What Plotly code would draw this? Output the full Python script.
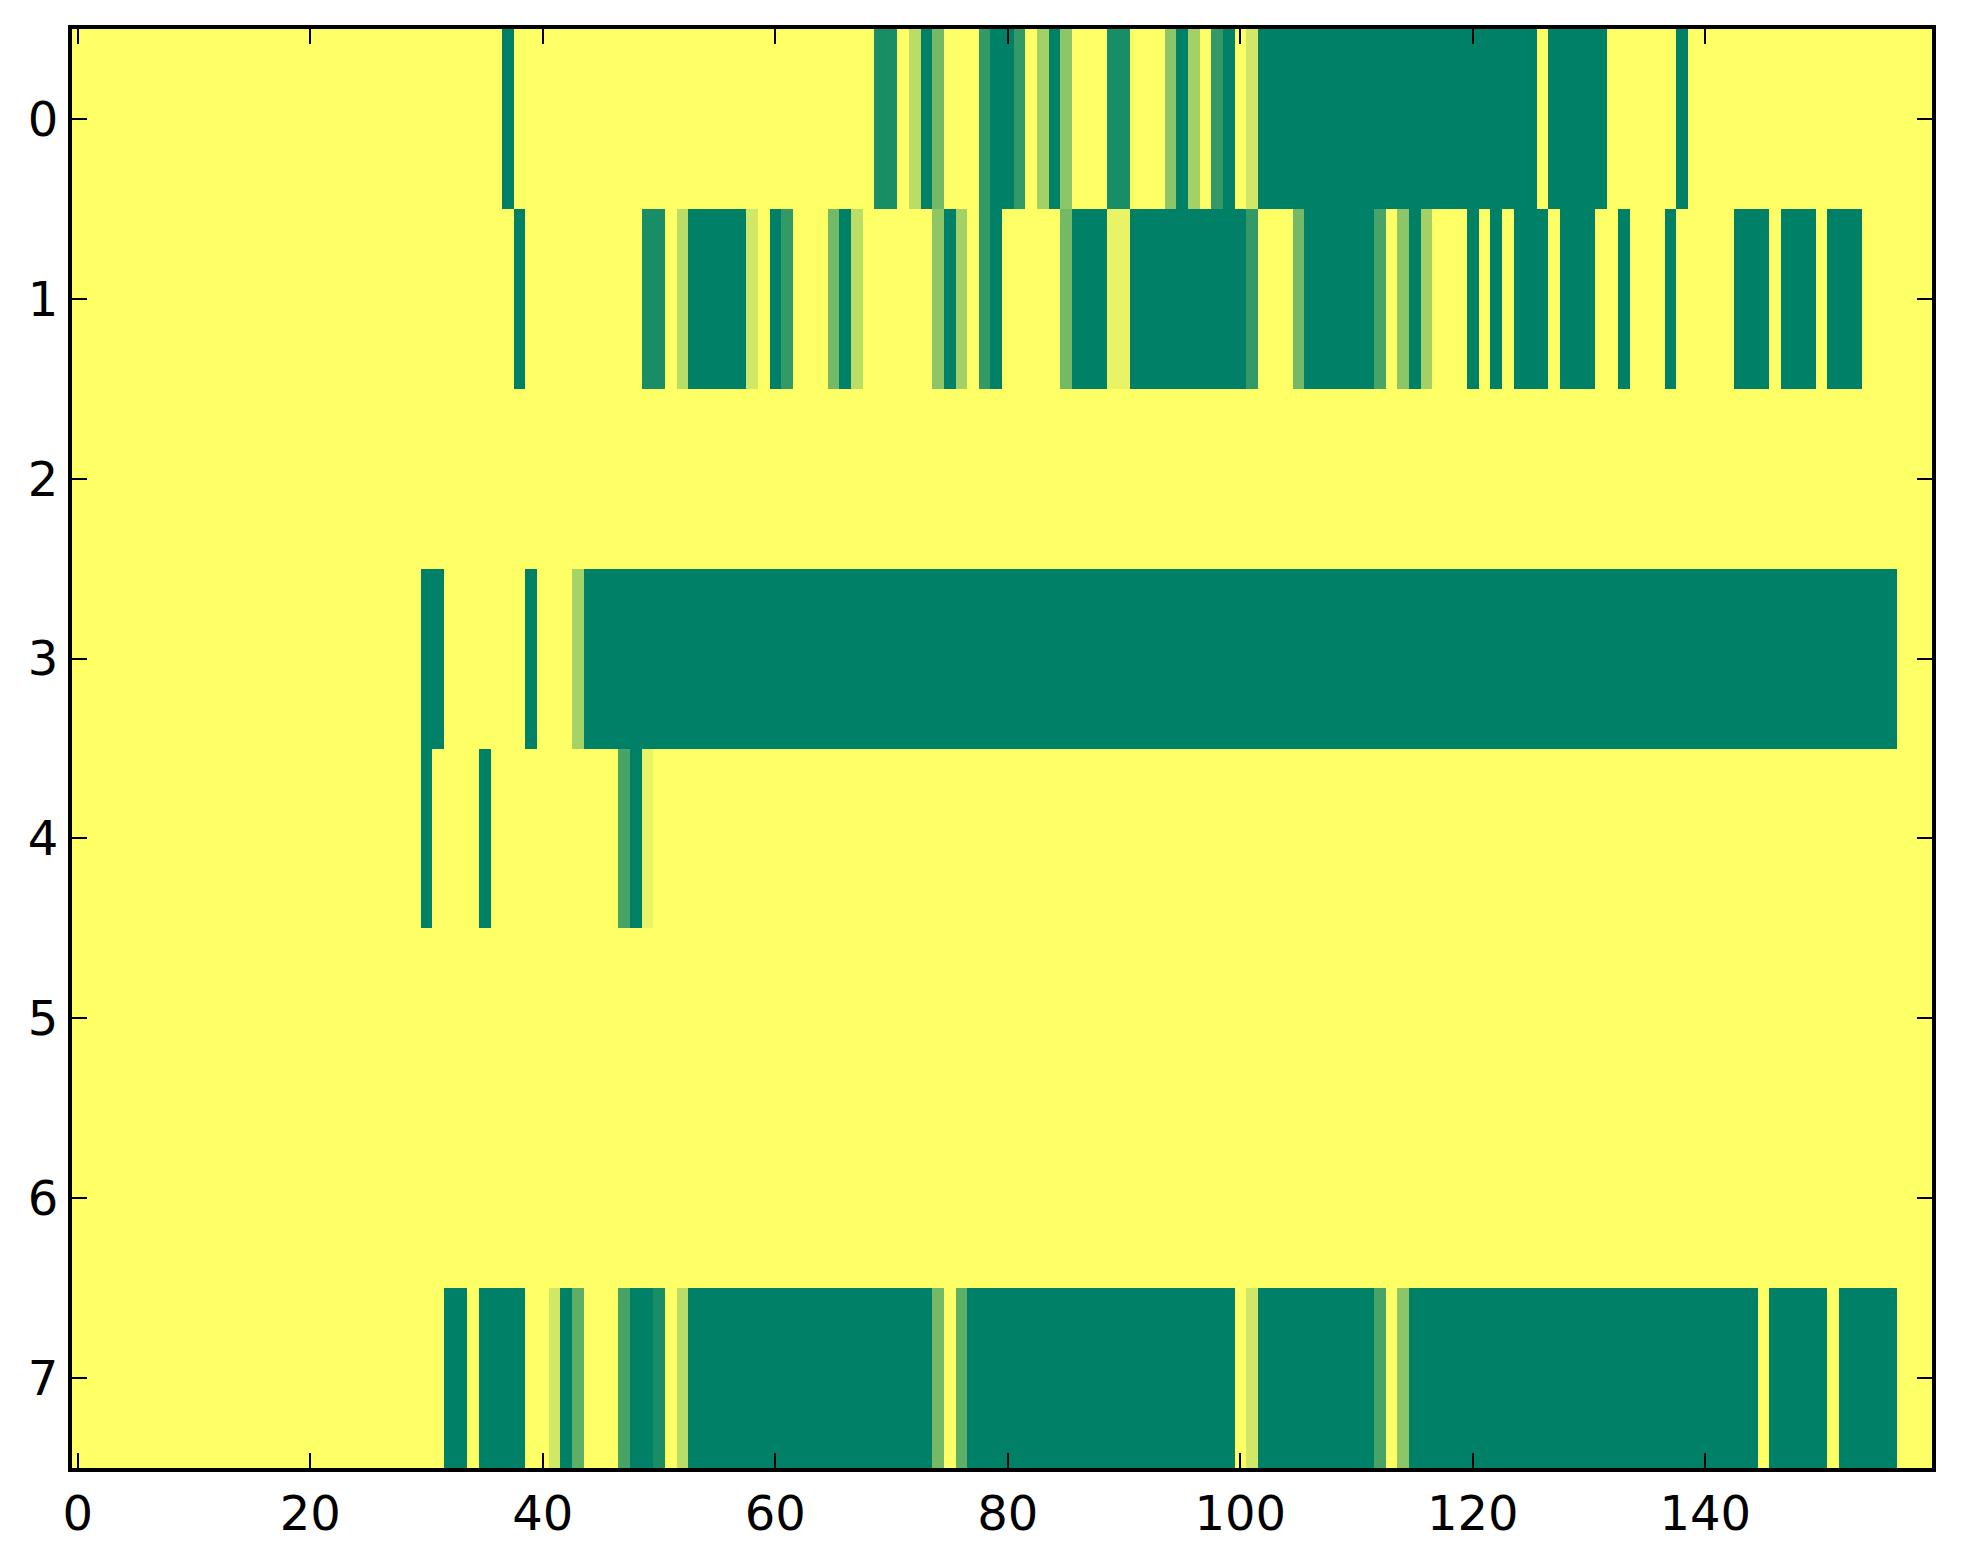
import plotly.graph_objects as go

# one list per row of the image, 160 columns each (0 = yellow, 1 = dark green)
row0 = [0, 0, 0, 0, 0, 0, 0, 0, 0, 0, 0, 0, 0, 0, 0, 0, 0, 0, 0, 0,
        0, 0, 0, 0, 0, 0, 0, 0, 0, 0, 0, 0, 0, 0, 0, 0, 0, 1, 0, 0,
        0, 0, 0, 0, 0, 0, 0, 0, 0, 0, 0, 0, 0, 0, 0, 0, 0, 0, 0, 0,
        0, 0, 0, 0, 0, 0, 0, 0, 0, .9, .9, 0, .27, 1, .55, 0, 0, 0, .8, 1,
        1, .8, 0, .36, 1, .45, 0, 0, 0, .9, .9, 0, 0, 0, .45, 1, .36, 0, .8, 1,
        0, .18, 1, 1, 1, 1, 1, 1, 1, 1, 1, 1, 1, 1, 1, 1, 1, 1, 1, 1,
        1, 1, 1, 1, 1, 1, 0, 1, 1, 1, 1, 1, 0, 0, 0, 0, 0, 0, 1, 0,
        0, 0, 0, 0, 0, 0, 0, 0, 0, 0, 0, 0, 0, 0, 0, 0, 0, 0, 0, 0]

row1 = [0, 0, 0, 0, 0, 0, 0, 0, 0, 0, 0, 0, 0, 0, 0, 0, 0, 0, 0, 0,
        0, 0, 0, 0, 0, 0, 0, 0, 0, 0, 0, 0, 0, 0, 0, 0, 0, 0, 1, 0,
        0, 0, 0, 0, 0, 0, 0, 0, 0, .9, .9, 0, .27, 1, 1, 1, 1, 1, .18, 0,
        1, .8, 0, 0, 0, .55, 1, .27, 0, 0, 0, 0, 0, 0, .45, 1, .36, 0, .8, 1,
        0, 0, 0, 0, 0, .55, 1, 1, 1, .09, .09, 1, 1, 1, 1, 1, 1, 1, 1, 1,
        1, .8, 0, 0, 0, .55, 1, 1, 1, 1, 1, 1, .72, 0, .45, 1, .36, 0, 0, 0,
        1, 0, 1, 0, 1, 1, 1, 0, 1, 1, 1, 0, 0, 1, 0, 0, 0, 1, 0, 0,
        0, 0, 0, 1, 1, 1, 0, 1, 1, 1, 0, 1, 1, 1, 0, 0, 0, 0, 0, 0]

row2 = [0, 0, 0, 0, 0, 0, 0, 0, 0, 0, 0, 0, 0, 0, 0, 0, 0, 0, 0, 0,
        0, 0, 0, 0, 0, 0, 0, 0, 0, 0, 0, 0, 0, 0, 0, 0, 0, 0, 0, 0,
        0, 0, 0, 0, 0, 0, 0, 0, 0, 0, 0, 0, 0, 0, 0, 0, 0, 0, 0, 0,
        0, 0, 0, 0, 0, 0, 0, 0, 0, 0, 0, 0, 0, 0, 0, 0, 0, 0, 0, 0,
        0, 0, 0, 0, 0, 0, 0, 0, 0, 0, 0, 0, 0, 0, 0, 0, 0, 0, 0, 0,
        0, 0, 0, 0, 0, 0, 0, 0, 0, 0, 0, 0, 0, 0, 0, 0, 0, 0, 0, 0,
        0, 0, 0, 0, 0, 0, 0, 0, 0, 0, 0, 0, 0, 0, 0, 0, 0, 0, 0, 0,
        0, 0, 0, 0, 0, 0, 0, 0, 0, 0, 0, 0, 0, 0, 0, 0, 0, 0, 0, 0]

row3 = [0, 0, 0, 0, 0, 0, 0, 0, 0, 0, 0, 0, 0, 0, 0, 0, 0, 0, 0, 0,
        0, 0, 0, 0, 0, 0, 0, 0, 0, 0, 1, 1, 0, 0, 0, 0, 0, 0, 0, 1,
        0, 0, 0, .35, 1, 1, 1, 1, 1, 1, 1, 1, 1, 1, 1, 1, 1, 1, 1, 1,
        1, 1, 1, 1, 1, 1, 1, 1, 1, 1, 1, 1, 1, 1, 1, 1, 1, 1, 1, 1,
        1, 1, 1, 1, 1, 1, 1, 1, 1, 1, 1, 1, 1, 1, 1, 1, 1, 1, 1, 1,
        1, 1, 1, 1, 1, 1, 1, 1, 1, 1, 1, 1, 1, 1, 1, 1, 1, 1, 1, 1,
        1, 1, 1, 1, 1, 1, 1, 1, 1, 1, 1, 1, 1, 1, 1, 1, 1, 1, 1, 1,
        1, 1, 1, 1, 1, 1, 1, 1, 1, 1, 1, 1, 1, 1, 1, 1, 1, 0, 0, 0]

row4 = [0, 0, 0, 0, 0, 0, 0, 0, 0, 0, 0, 0, 0, 0, 0, 0, 0, 0, 0, 0,
        0, 0, 0, 0, 0, 0, 0, 0, 0, 0, 1, 0, 0, 0, 0, 1, 0, 0, 0, 0,
        0, 0, 0, 0, 0, 0, 0, .72, 1, .09, 0, 0, 0, 0, 0, 0, 0, 0, 0, 0,
        0, 0, 0, 0, 0, 0, 0, 0, 0, 0, 0, 0, 0, 0, 0, 0, 0, 0, 0, 0,
        0, 0, 0, 0, 0, 0, 0, 0, 0, 0, 0, 0, 0, 0, 0, 0, 0, 0, 0, 0,
        0, 0, 0, 0, 0, 0, 0, 0, 0, 0, 0, 0, 0, 0, 0, 0, 0, 0, 0, 0,
        0, 0, 0, 0, 0, 0, 0, 0, 0, 0, 0, 0, 0, 0, 0, 0, 0, 0, 0, 0,
        0, 0, 0, 0, 0, 0, 0, 0, 0, 0, 0, 0, 0, 0, 0, 0, 0, 0, 0, 0]

row5 = [0, 0, 0, 0, 0, 0, 0, 0, 0, 0, 0, 0, 0, 0, 0, 0, 0, 0, 0, 0,
        0, 0, 0, 0, 0, 0, 0, 0, 0, 0, 0, 0, 0, 0, 0, 0, 0, 0, 0, 0,
        0, 0, 0, 0, 0, 0, 0, 0, 0, 0, 0, 0, 0, 0, 0, 0, 0, 0, 0, 0,
        0, 0, 0, 0, 0, 0, 0, 0, 0, 0, 0, 0, 0, 0, 0, 0, 0, 0, 0, 0,
        0, 0, 0, 0, 0, 0, 0, 0, 0, 0, 0, 0, 0, 0, 0, 0, 0, 0, 0, 0,
        0, 0, 0, 0, 0, 0, 0, 0, 0, 0, 0, 0, 0, 0, 0, 0, 0, 0, 0, 0,
        0, 0, 0, 0, 0, 0, 0, 0, 0, 0, 0, 0, 0, 0, 0, 0, 0, 0, 0, 0,
        0, 0, 0, 0, 0, 0, 0, 0, 0, 0, 0, 0, 0, 0, 0, 0, 0, 0, 0, 0]

row6 = [0, 0, 0, 0, 0, 0, 0, 0, 0, 0, 0, 0, 0, 0, 0, 0, 0, 0, 0, 0,
        0, 0, 0, 0, 0, 0, 0, 0, 0, 0, 0, 0, 0, 0, 0, 0, 0, 0, 0, 0,
        0, 0, 0, 0, 0, 0, 0, 0, 0, 0, 0, 0, 0, 0, 0, 0, 0, 0, 0, 0,
        0, 0, 0, 0, 0, 0, 0, 0, 0, 0, 0, 0, 0, 0, 0, 0, 0, 0, 0, 0,
        0, 0, 0, 0, 0, 0, 0, 0, 0, 0, 0, 0, 0, 0, 0, 0, 0, 0, 0, 0,
        0, 0, 0, 0, 0, 0, 0, 0, 0, 0, 0, 0, 0, 0, 0, 0, 0, 0, 0, 0,
        0, 0, 0, 0, 0, 0, 0, 0, 0, 0, 0, 0, 0, 0, 0, 0, 0, 0, 0, 0,
        0, 0, 0, 0, 0, 0, 0, 0, 0, 0, 0, 0, 0, 0, 0, 0, 0, 0, 0, 0]

row7 = [0, 0, 0, 0, 0, 0, 0, 0, 0, 0, 0, 0, 0, 0, 0, 0, 0, 0, 0, 0,
        0, 0, 0, 0, 0, 0, 0, 0, 0, 0, 0, 0, 1, 1, 0, 1, 1, 1, 1, 0,
        0, .18, 1, .63, 0, 0, 0, .72, 1, 1, .9, 0, .27, 1, 1, 1, 1, 1, 1, 1,
        1, 1, 1, 1, 1, 1, 1, 1, 1, 1, 1, 1, 1, 1, .55, 0, .63, 1, 1, 1,
        1, 1, 1, 1, 1, 1, 1, 1, 1, 1, 1, 1, 1, 1, 1, 1, 1, 1, 1, 1,
        0, .18, 1, 1, 1, 1, 1, 1, 1, 1, 1, 1, .72, 0, .45, 1, 1, 1, 1, 1,
        1, 1, 1, 1, 1, 1, 1, 1, 1, 1, 1, 1, 1, 1, 1, 1, 1, 1, 1, 1,
        1, 1, 1, 1, 1, 0, 1, 1, 1, 1, 1, 0, 1, 1, 1, 1, 1, 0, 0, 0]

rows = [row0, row1, row2, row3, row4, row5, row6, row7]
cols = list(range(len(row0)))
row_ids = list(range(len(rows)))
x_ticks = [0, 20, 40, 60, 80, 100, 120, 140]

# matplotlib "summer_r": yellow -> green
summer_r = [[0.0, 'rgb(255,255,102)'], [1.0, 'rgb(0,128,102)']]

fig = go.Figure()

fig.add_trace(go.Heatmap(
    z=rows, x=cols, y=row_ids,
    colorscale=summer_r, zmin=0, zmax=1,
    showscale=False
))

axis_style = dict(
    showline=True, linecolor='black', linewidth=4, mirror='allticks',
    ticks='inside', ticklen=15, tickwidth=2, tickcolor='black',
    showgrid=False, zeroline=False,
    tickfont=dict(family='DejaVu Sans', size=48, color='black')
)

# the page body adds ~8px offset, so margins are shifted to compensate
fig.update_layout(
    width=1963, height=1564,
    margin=dict(l=64, r=39, t=21, b=104),
    paper_bgcolor='white', plot_bgcolor='white',
    xaxis=dict(range=[-0.5, 159.5], tickvals=x_ticks, **axis_style),
    yaxis=dict(range=[7.5, -0.5], tickvals=row_ids, **axis_style),
)

fig.write_html("out.html")
